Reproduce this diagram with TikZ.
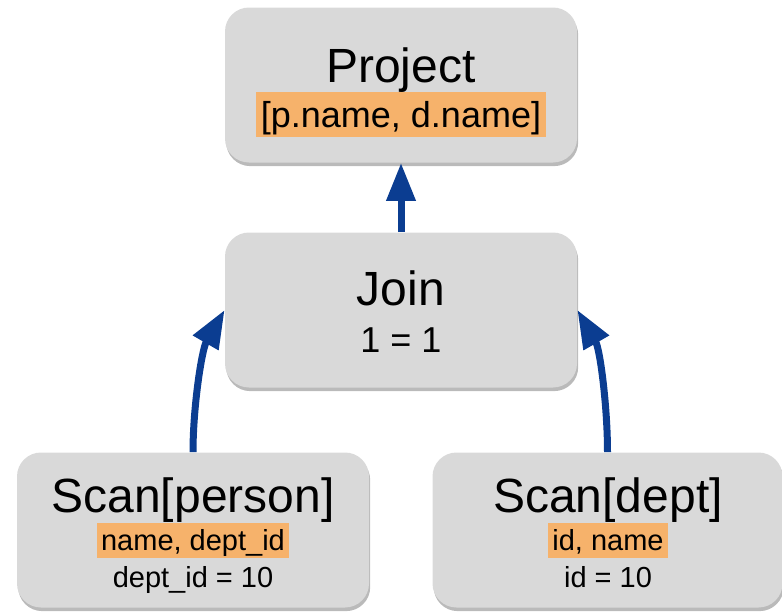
\documentclass[tikz,border=0pt]{standalone}
\usepackage{fontspec}
\setmainfont{Liberation Sans}
\usetikzlibrary{arrows.meta,positioning,shadows}
\definecolor{boxgray}{HTML}{D9D9D9}
\definecolor{colorange}{HTML}{F6B26B}
\definecolor{flowblue}{HTML}{0B3D91}

\tikzset{
  opbox/.style={fill=boxgray,rounded corners=12pt,minimum width=176pt,minimum height=77.5pt,
    drop shadow={shadow xshift=0.6pt,shadow yshift=-1.8pt,opacity=0.45,fill=black!60}},
  optitle/.style={anchor=base,inner sep=0pt,font=\fontsize{24}{28}\selectfont},
  opcols/.style={anchor=base,fill=colorange,inner xsep=2.5pt,inner ysep=0pt,
    text height=17.5pt,text depth=5pt,font=\fontsize{18}{22}\selectfont},
  scancols/.style={anchor=base,fill=colorange,inner xsep=2pt,inner ysep=0pt,
    text height=13.5pt,text depth=4pt,font=\fontsize{14.5}{17}\selectfont},
  oppred/.style={anchor=base,inner sep=0pt,font=\fontsize{18}{22}\selectfont},
  scanpred/.style={anchor=base,inner sep=0pt,font=\fontsize{14.5}{17}\selectfont},
  flow/.style={draw=flowblue,line width=3.5pt,-{Triangle[length=19pt,width=14pt]}}
}

\begin{document}
\begin{tikzpicture}[x=0.5pt,y=-0.5pt]
  \useasboundingbox (0,0) rectangle (782,612);

  % operator boxes
  \node[opbox] (project) at (401,85) {};
  \node[opbox] (join) at (401,310) {};
  \node[opbox] (person) at (193,530) {};
  \node[opbox,minimum width=175pt] (dept) at (607.5,530) {};

  % texts
  \node[optitle] (projTitle) at (401,82) {Project};
  \node[opcols] (projCols) at (401,127) {[p.name, d.name]};
  \node[optitle] (joinTitle) at (401,305) {Join};
  \node[oppred] (joinPred) at (401,352) {1 = 1};
  \node[optitle] (personTitle) at (193,512) {Scan[person]};
  \node[scancols] (personCols) at (193,550) {name, dept\_id};
  \node[scanpred] (personPred) at (193,587) {dept\_id = 10};
  \node[optitle] (deptTitle) at (608,512) {Scan[dept]};
  \node[scancols] (deptCols) at (608,550) {id, name};
  \node[scanpred] (deptPred) at (608,587) {id = 10};

  % data flow
  \draw[flow] (join.north) -- (project.south);
  \draw[flow] (person.north) to[out=90,in=240,looseness=0.8] (join.west);
  \draw[flow] (dept.north) to[out=90,in=300,looseness=0.8] (join.east);
\end{tikzpicture}
\end{document}
